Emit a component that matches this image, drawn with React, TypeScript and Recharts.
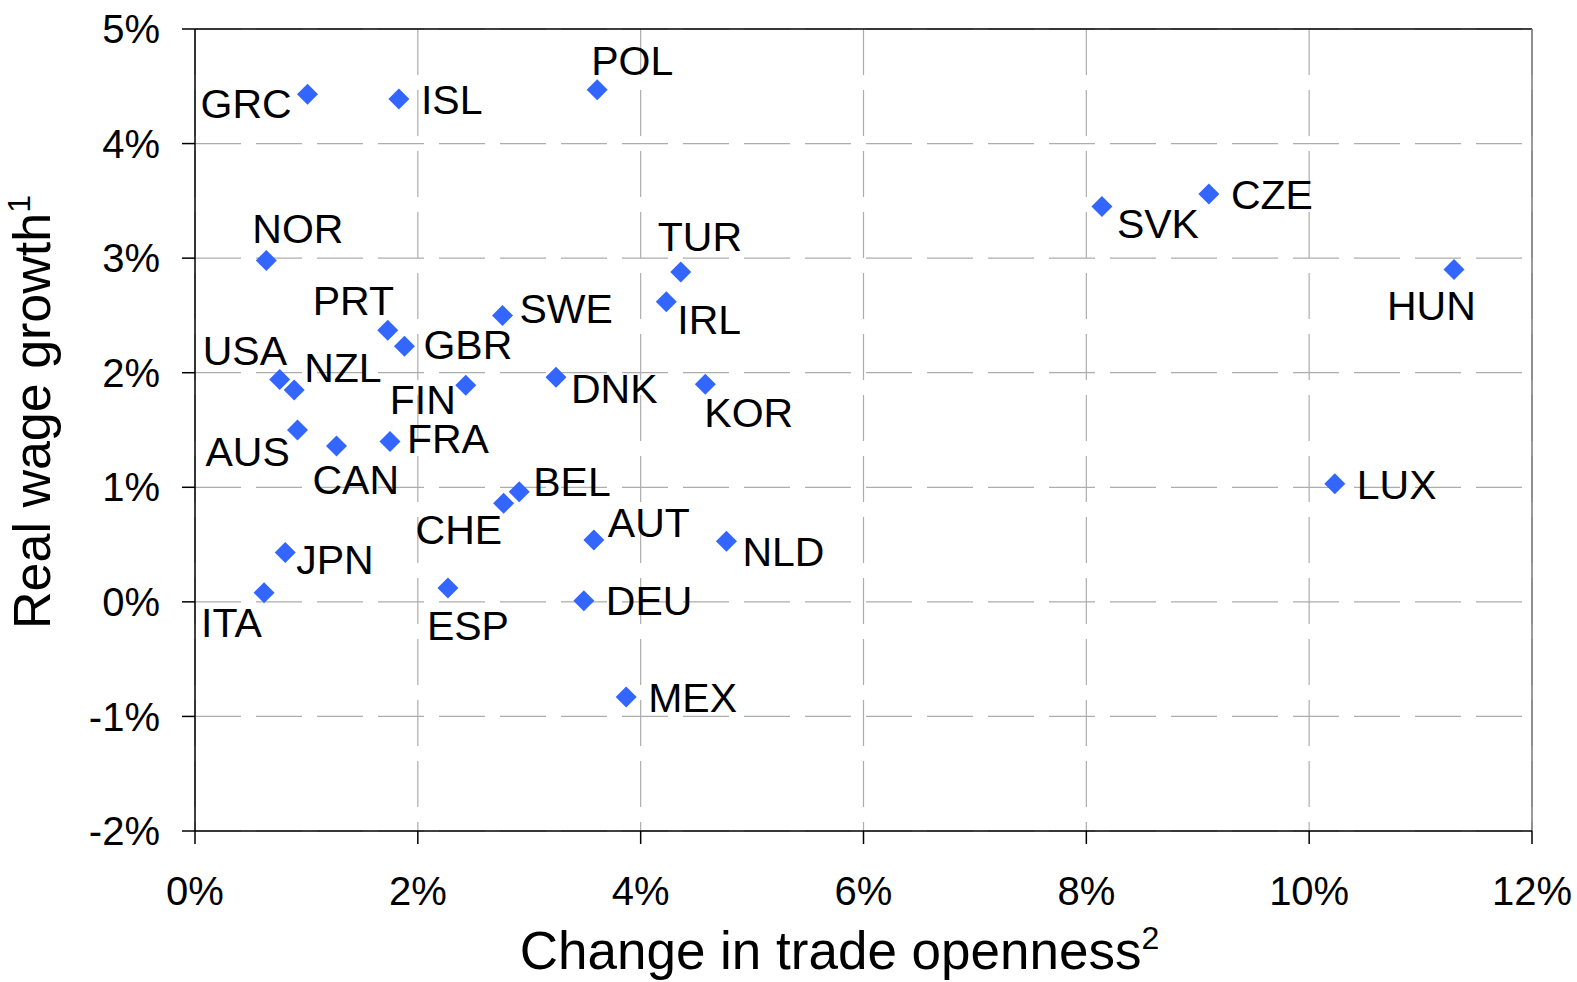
import { ScatterChart, Scatter, XAxis, YAxis, CartesianGrid, ReferenceLine, Label } from "recharts"

// country codes, x = change in trade openness (%), y = real wage growth (%)
const countries = [
  "GRC", "ISL", "POL", "NOR", "SVK", "CZE", "HUN", "TUR", "IRL", "SWE",
  "PRT", "GBR", "USA", "NZL", "FIN", "DNK", "KOR", "AUS", "CAN", "FRA",
  "BEL", "CHE", "LUX", "AUT", "NLD", "JPN", "ITA", "ESP", "DEU", "MEX",
]
const tradeOpenness = [
  1.01, 1.83, 3.61, 0.64, 8.14, 9.1, 11.3, 4.36, 4.23, 2.76,
  1.73, 1.88, 0.76, 0.89, 2.43, 3.24, 4.58, 0.92, 1.27, 1.75,
  2.91, 2.77, 10.23, 3.58, 4.77, 0.81, 0.62, 2.27, 3.49, 3.87,
]
const realWageGrowth = [
  4.43, 4.39, 4.47, 2.98, 3.45, 3.56, 2.9, 2.88, 2.62, 2.5,
  2.37, 2.23, 1.94, 1.85, 1.89, 1.96, 1.9, 1.5, 1.36, 1.4,
  0.96, 0.86, 1.03, 0.54, 0.53, 0.43, 0.08, 0.12, 0.01, -0.83,
]
const xTicks = [0, 2, 4, 6, 8, 10, 12]
const yTicks = [-2, -1, 0, 1, 2, 3, 4, 5]

// where each country name sits relative to its marker (text start, baseline)
const labelOffsets: Record<string, [number, number]> = {
  GRC: [-107, 24], ISL: [22, 15], POL: [-6, -15], NOR: [-14, -17],
  SVK: [15, 31], CZE: [22, 15], HUN: [-67, 50], TUR: [-23, -21],
  IRL: [11, 32], SWE: [17, 8], PRT: [-75, -15], GBR: [19, 13],
  USA: [-77, -15], NZL: [10, -8], FIN: [-76, 29], DNK: [15, 26],
  KOR: [-1, 43], AUS: [-92, 36], CAN: [-24, 48], FRA: [17, 12],
  BEL: [14, 4], CHE: [-88, 41], LUX: [22, 15], AUT: [14, -3],
  NLD: [16, 25], JPN: [11, 21], ITA: [-63, 44], ESP: [-21, 52],
  DEU: [22, 14], MEX: [22, 15],
}

const FONT = "'Liberation Sans', Arial, sans-serif"

const data = countries.map((name, i) => ({
  name,
  x: tradeOpenness[i],
  y: realWageGrowth[i],
}))

const renderPoint = (props: any) => {
  const { cx, cy, payload } = props
  const [dx, dy] = labelOffsets[payload.name] ?? [12, 12]
  const r = 10.5
  return (
    <g>
      <polygon
        points={`${cx},${cy - r} ${cx + r},${cy} ${cx},${cy + r} ${cx - r},${cy}`}
        fill="#3366ff"
      />
      <text x={cx + dx} y={cy + dy} fontSize={41} fontFamily={FONT} fill="#000">
        {payload.name}
      </text>
    </g>
  )
}

const renderXTitle = (props: any) => {
  const { viewBox } = props
  const cx = viewBox.x + viewBox.width / 2 - 24
  return (
    <text x={cx} y={viewBox.y + 138} textAnchor="middle" fontSize={53} fontFamily={FONT} fill="#000">
      <tspan>Change in trade openness</tspan>
      <tspan dy={-20} fontSize={32}>2</tspan>
    </text>
  )
}

const renderYTitle = (props: any) => {
  const { viewBox } = props
  const cy = viewBox.y + viewBox.height / 2 - 18
  return (
    <text
      x={0}
      y={0}
      transform={`translate(50, ${cy}) rotate(-90)`}
      textAnchor="middle"
      fontSize={52}
      fontFamily={FONT}
      fill="#000"
    >
      <tspan>Real wage growth</tspan>
      <tspan dy={-20} fontSize={32}>1</tspan>
    </text>
  )
}

export default function App() {
  return (
    <div style={{ position: "absolute", left: 0, top: 0, width: 1577, height: 982, background: "#fff" }}>
      <ScatterChart width={1577} height={982} margin={{ top: 29, right: 45, left: 0, bottom: 0 }}>
        <CartesianGrid stroke="#adadad" strokeDasharray="46 15" strokeWidth={1.2} />
        <XAxis
          type="number"
          dataKey="x"
          domain={[0, 12]}
          ticks={xTicks}
          tickFormatter={(v) => `${v}%`}
          height={151}
          tickSize={13}
          tickMargin={33}
          stroke="#000"
          strokeWidth={1.5}
          tick={{ fill: "#000", fontSize: 40, fontFamily: FONT }}
        >
          <Label content={renderXTitle} />
        </XAxis>
        <YAxis
          type="number"
          dataKey="y"
          domain={[-2, 5]}
          ticks={yTicks}
          tickFormatter={(v) => `${v}%`}
          width={195}
          tickSize={13}
          tickMargin={22}
          stroke="#000"
          strokeWidth={1.5}
          tick={{ fill: "#000", fontSize: 40, fontFamily: FONT }}
        >
          <Label content={renderYTitle} />
        </YAxis>
        <ReferenceLine y={5} stroke="#000" strokeWidth={1.3} />
        <ReferenceLine x={12} stroke="#7a7a7a" strokeWidth={1.5} />
        <Scatter data={data} shape={renderPoint} isAnimationActive={false} />
      </ScatterChart>
    </div>
  )
}
